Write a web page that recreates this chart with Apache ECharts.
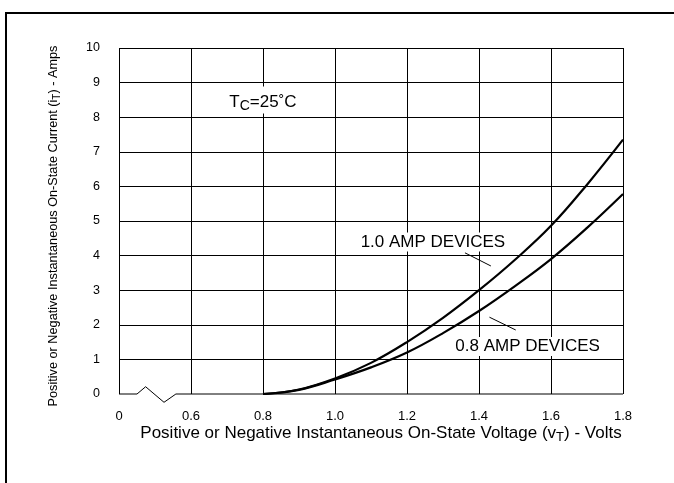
<!DOCTYPE html>
<html>
<head>
<meta charset="utf-8">
<script src="https://cdn.jsdelivr.net/npm/echarts@6/dist/echarts.min.js"></script>
<style>
html,body{margin:0;padding:0;background:#fff;}
#c{width:674px;height:483px;}
</style>
</head>
<body>
<div id="c"></div>
<script>
// X axis ticks (value units); the first tick is the broken-axis origin shown as "0"
const xTicks = [0.4, 0.6, 0.8, 1.0, 1.2, 1.4, 1.6, 1.8];
const xTickLabels = ['0', '0.6', '0.8', '1.0', '1.2', '1.4', '1.6', '1.8'];
const yTicks = [0, 1, 2, 3, 4, 5, 6, 7, 8, 9, 10];

// Voltage (V) samples for both curves
const voltage = [0.8, 0.9, 1.0, 1.1, 1.2, 1.3, 1.4, 1.5, 1.6, 1.7, 1.8];
// Current (A)
const current10Amp = [0, 0.13, 0.45, 0.9, 1.5, 2.2, 3.0, 3.88, 4.86, 6.05, 7.35];
const current08Amp = [0, 0.12, 0.42, 0.77, 1.2, 1.76, 2.4, 3.12, 3.9, 4.8, 5.78];

// Bottom axis line with the break symbol (value units)
const axisBreakX = [0.4, 0.45, 0.474, 0.525, 0.558, 1.8];
const axisBreakY = [0, 0, 0.21, -0.24, 0, 0];

// Curve labels: text anchor and leader line (value units)
const label10 = {text: '1.0 AMP DEVICES', at: [1.272, 4.39], leader: [[1.361, 4.08], [1.433, 3.70]]};
const label08 = {text: '0.8 AMP DEVICES', at: [1.535, 1.37], leader: [[1.429, 2.22], [1.502, 1.85]]};
const tempLabel = {at: [0.8, 8.5]};

const FONT = '"Liberation Sans", Arial, Helvetica, sans-serif';

const zip = (xs, ys) => xs.map((x, i) => [x, ys[i]]);

const chart = echarts.init(document.getElementById('c'), null, {renderer: 'canvas'});

const curveStyle = {color: '#000', width: 2.2};

const textMark = (at, formatter, extra) => ({
  silent: true, symbol: 'rect', symbolSize: 1,
  itemStyle: {color: 'rgba(0,0,0,0)'},
  label: Object.assign({show: true, position: 'inside', color: '#000', formatter: formatter}, extra),
  data: [{coord: at}]
});

chart.setOption({
  animation: false,
  backgroundColor: '#fff',
  grid: {left: 119, right: 51, top: 48, bottom: 89, containLabel: false},
  graphic: [
    {type: 'polyline', shape: {points: [[6, 483], [6, 13], [674, 13]]}, style: {stroke: '#000', lineWidth: 2, fill: null}, silent: true}
  ],
  xAxis: {
    type: 'value',
    min: 0.4, max: 1.8, interval: 0.2,
    axisLine: {show: false},
    axisTick: {show: false},
    splitLine: {show: true, lineStyle: {color: '#000', width: 1}},
    axisLabel: {
      color: '#000', fontFamily: FONT, fontSize: 13, margin: 16,
      formatter: v => {
        const i = xTicks.findIndex(t => Math.abs(t - v) < 1e-6);
        return i >= 0 ? xTickLabels[i] : '';
      }
    },
    name: '{n|Positive or Negative Instantaneous On-State Voltage (v}{s|T}{n|) - Volts}',
    nameLocation: 'middle',
    nameGap: 29,
    nameMoveOverlap: false,
    nameTextStyle: {
      padding: [0, 0, 0, 20],
      rich: {
        n: {fontFamily: FONT, fontSize: 17, color: '#000'},
        s: {fontFamily: FONT, fontSize: 13, color: '#000', padding: [8, 0, 0, 0]}
      }
    }
  },
  yAxis: {
    type: 'value',
    min: 0, max: 10, interval: 1,
    axisLine: {show: false},
    axisTick: {show: false},
    splitLine: {show: true, showMinLine: false, lineStyle: {color: '#000', width: 1}},
    axisLabel: {
      color: '#000', fontFamily: FONT, fontSize: 12.5, margin: 19,
      padding: [0, 0, 7, 0],
      formatter: v => {
        const i = yTicks.indexOf(Math.round(v));
        return i >= 0 ? String(yTicks[i]) : '';
      }
    },
    name: '{n|Positive or Negative Instantaneous On-State Current (i}{s|T}{n|) - Amps}',
    nameLocation: 'middle',
    nameRotate: 90,
    nameGap: 57,
    nameTextStyle: {
      padding: [0, 10, 0, 0],
      rich: {
        n: {fontFamily: FONT, fontSize: 12.7, color: '#000'},
        s: {fontFamily: FONT, fontSize: 10, color: '#000', padding: [7, 0, 0, 0]}
      }
    }
  },
  series: [
    {
      name: 'axisBreak', type: 'line', data: zip(axisBreakX, axisBreakY), clip: false,
      symbol: 'none', lineStyle: {color: '#000', width: 1}, silent: true, z: 3
    },
    {
      name: '1.0 AMP DEVICES', type: 'line', data: zip(voltage, current10Amp),
      smooth: 0.4, symbol: 'none', lineStyle: curveStyle, z: 5,
      markLine: {
        silent: true, symbol: 'none', label: {show: false},
        lineStyle: {color: '#000', width: 1, type: 'solid'},
        data: [[{coord: label10.leader[0]}, {coord: label10.leader[1]}]]
      },
      markPoint: textMark(label10.at, label10.text, {fontFamily: FONT, fontSize: 17, backgroundColor: '#fff', padding: [1, 3, 1, 3]})
    },
    {
      name: '0.8 AMP DEVICES', type: 'line', data: zip(voltage, current08Amp),
      smooth: 0.4, symbol: 'none', lineStyle: curveStyle, z: 5,
      markLine: {
        silent: true, symbol: 'none', label: {show: false},
        lineStyle: {color: '#000', width: 1, type: 'solid'},
        data: [[{coord: label08.leader[0]}, {coord: label08.leader[1]}]]
      },
      markPoint: textMark(label08.at, label08.text, {fontFamily: FONT, fontSize: 17, backgroundColor: '#fff', padding: [1, 3, 1, 3]})
    },
    {
      name: 'temp', type: 'scatter', data: [], silent: true,
      markPoint: textMark(tempLabel.at, '{n|T}{s|C}{n|=25˚C}', {
        backgroundColor: '#fff', padding: [5, 3, 0, 3],
        rich: {
          n: {fontFamily: FONT, fontSize: 17, color: '#000'},
          s: {fontFamily: FONT, fontSize: 14, color: '#000', padding: [8, 0, 0, 0]}
        }
      })
    }
  ]
});
</script>
</body>
</html>
